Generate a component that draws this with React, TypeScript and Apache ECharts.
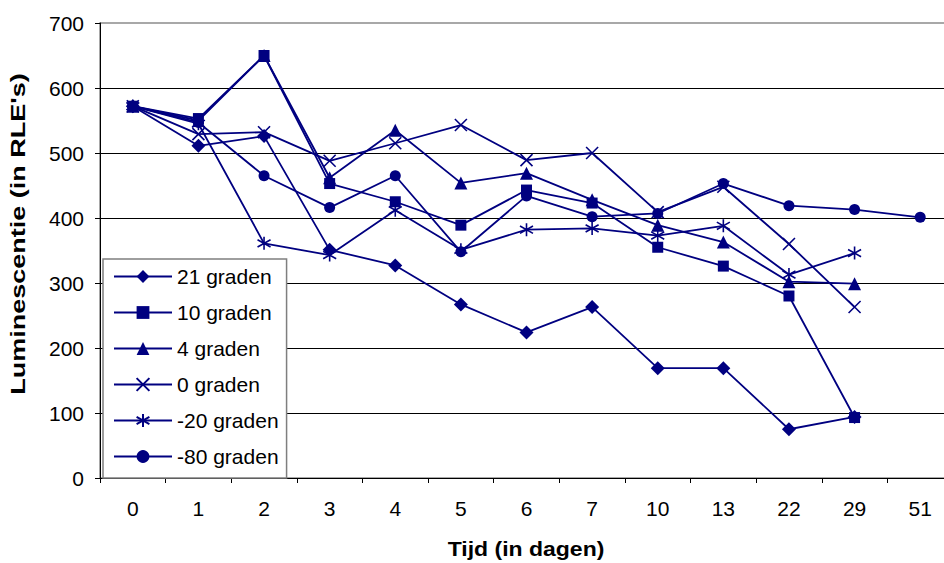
import React, { useEffect, useRef } from "react";
import * as echarts from "echarts";

// Measurement days (category axis) and luminescence per storage temperature
const days = ["0", "1", "2", "3", "4", "5", "6", "7", "10", "13", "22", "29", "51"];
const yTicks = [0, 100, 200, 300, 400, 500, 600, 700];

const graden21 = [572, 511, 526, 351, 327, 267, 224, 263, 169, 169, 75, 94, null];
const graden10 = [572, 553, 650, 453, 425, 389, 443, 423, 355, 326, 280, 93, null];
const graden4 = [572, 550, 650, 462, 535, 454, 469, 428, 389, 363, 302, 299, null];
const graden0 = [572, 529, 532, 488, 515, 543, 489, 500, 409, 448, 360, 263, null];
const gradenMin20 = [572, 545, 361, 343, 412, 351, 382, 384, 373, 388, 313, 346, null];
const gradenMin80 = [572, 547, 465, 416, 465, 348, 434, 402, 407, 453, 419, 413, 401];

const seriesNames = ["21 graden", "10 graden", "4 graden", "0 graden", "-20 graden", "-80 graden"];

const NAVY = "#000080";
const FONT = '"Liberation Sans", Arial, sans-serif';

const CROSS = "path://M0,0L10,10M10,0L0,10";
const STAR = "path://M5,0L5,10M0.7,2.2L9.3,7.8M0.7,7.8L9.3,2.2";

function lineSeries(name: string, data: (number | null)[], symbol: string, size: number, stroked = false) {
  return {
    name,
    type: "line",
    data,
    symbol,
    symbolSize: size,
    showAllSymbol: true,
    connectNulls: false,
    lineStyle: { color: NAVY, width: 1.8 },
    itemStyle: stroked
      ? { color: NAVY, borderColor: NAVY, borderWidth: 1.6 }
      : { color: NAVY, borderWidth: 0 },
    emphasis: { disabled: true },
    z: 2,
  };
}

export default function App() {
  const ref = useRef<HTMLDivElement>(null);

  useEffect(() => {
    if (!ref.current) return;
    const chart = echarts.init(ref.current, null, { renderer: "svg" });
    chart.setOption({
      animation: false,
      backgroundColor: "#ffffff",
      textStyle: { fontFamily: FONT },
      grid: {
        left: 100,
        top: 23,
        width: 853,
        height: 455,
        outerBoundsMode: "none",
        containLabel: false,
        show: true,
        borderColor: "#8c8c8c",
        borderWidth: 1.5,
        backgroundColor: "transparent",
      },
      legend: {
        data: seriesNames,
        orient: "vertical",
        left: 103,
        top: 259,
        itemWidth: 58,
        itemHeight: 16,
        itemGap: 15,
        padding: [7, 8, 11, 10],
        backgroundColor: "#ffffff",
        borderColor: "#7f7f7f",
        borderWidth: 1.5,
        selectedMode: false,
        z: 10,
        textStyle: { fontSize: 21, lineHeight: 21, color: "#000", fontFamily: FONT, padding: [0, 0, 0, 0] },
      },
      xAxis: {
        type: "category",
        data: days,
        boundaryGap: true,
        axisLine: { lineStyle: { color: "#000", width: 1 } },
        axisTick: { show: true, alignWithLabel: false, length: 5, lineStyle: { color: "#000" } },
        axisLabel: { fontSize: 21, color: "#000", margin: 20, fontFamily: FONT },
        splitLine: { show: false },
      },
      yAxis: {
        type: "value",
        min: yTicks[0],
        max: yTicks[yTicks.length - 1],
        interval: 100,
        axisLine: { show: true, lineStyle: { color: "#000", width: 1 } },
        axisTick: { show: true, length: 5, lineStyle: { color: "#000" } },
        axisLabel: { fontSize: 21, color: "#000", margin: 16, fontFamily: FONT },
        splitLine: {
          show: true,
          showMinLine: false,
          showMaxLine: false,
          lineStyle: { color: "#000", width: 1 },
        },
      },
      graphic: [
        {
          type: "text",
          x: 18,
          y: 234,
          rotation: Math.PI / 2,
          scaleX: 1.35,
          style: {
            text: "Luminescentie (in RLE's)",
            fontSize: 20,
            fontWeight: "bold",
            fontFamily: FONT,
            fill: "#000",
            textAlign: "center",
            textVerticalAlign: "middle",
          },
        },
        {
          type: "text",
          x: 526,
          y: 549,
          scaleX: 1.15,
          style: {
            text: "Tijd (in dagen)",
            fontSize: 20,
            fontWeight: "bold",
            fontFamily: FONT,
            fill: "#000",
            textAlign: "center",
            textVerticalAlign: "middle",
          },
        },
      ],
      series: [
        lineSeries("21 graden", graden21, "diamond", 14),
        lineSeries("10 graden", graden10, "rect", 11),
        lineSeries("4 graden", graden4, "triangle", 13),
        lineSeries("0 graden", graden0, CROSS, 12, true),
        lineSeries("-20 graden", gradenMin20, STAR, 13, true),
        lineSeries("-80 graden", gradenMin80, "circle", 11),
      ],
    });
    return () => chart.dispose();
  }, []);

  return (
    <div
      ref={ref}
      style={{ position: "fixed", left: 0, top: 0, width: 944, height: 563, background: "#fff" }}
    />
  );
}
